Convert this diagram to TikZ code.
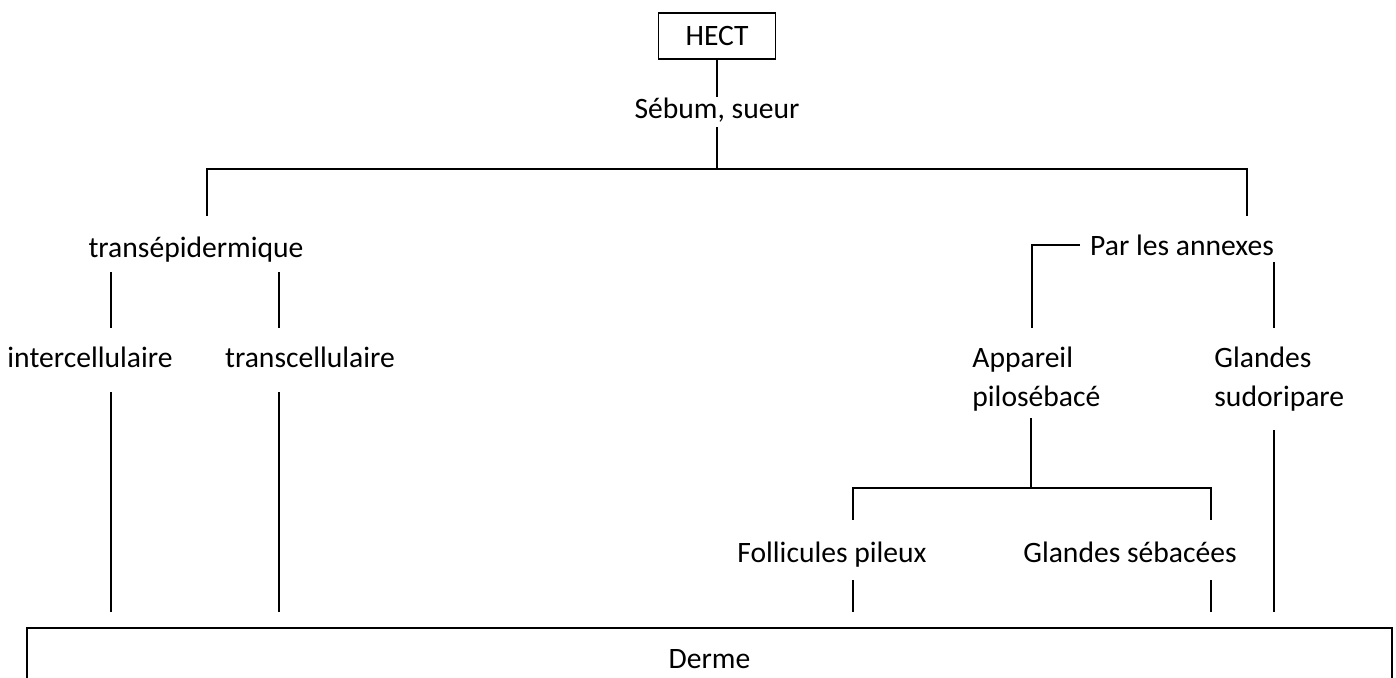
\documentclass[tikz,border=0pt]{standalone}
\usepackage{fontspec}
\setmainfont{Carlito}
\usetikzlibrary{positioning}
\tikzset{
  lbl/.style={inner sep=0pt, font=\fontsize{14.8}{19.5}\selectfont},
  hectbox/.style={draw, line width=0.8pt, minimum width=58.5pt, minimum height=23pt, inner sep=0pt, font=\fontsize{14.8}{19.5}\selectfont},
  dermebox/.style={draw, line width=0.8pt, minimum width=682.5pt, minimum height=31pt, inner sep=0pt, font=\fontsize{14.8}{19.5}\selectfont},
  link/.style={line width=0.8pt}
}

\begin{document}
\begin{tikzpicture}[x=0.5pt, y=-0.5pt]
    \useasboundingbox (0,0) rectangle (1396,677);

    % Top of the tree
    \node[hectbox] (hect) at (717,36) {HECT};
    \node[lbl, anchor=base] (sebum) at (717,118) {Sébum, sueur};
    \coordinate (s1) at (717,97);
    \coordinate (s2) at (717,127);
    \coordinate (top) at (717,169);
    \draw[link] (hect) -- (s1);
    \draw[link] (s2) -- (top);

    % Two main routes
    \coordinate (trtop) at (207,216);
    \coordinate (antop) at (1247,216);
    \draw[link] (trtop) |- (top) -| (antop);
    \node[lbl, anchor=base] (trans) at (196,257) {transépidermique};
    \node[lbl, anchor=base] (annexes) at (1182,255) {Par les annexes};

    % Transepidermal branch
    \node[lbl, anchor=base] (inter) at (90,367) {intercellulaire};
    \node[lbl, anchor=base] (transc) at (310,367) {transcellulaire};
    \coordinate (i1) at (111,272);
    \coordinate (i2) at (111,328);
    \coordinate (i3) at (111,392);
    \coordinate (i4) at (111,612);
    \coordinate (t1) at (279,272);
    \coordinate (t2) at (279,328);
    \coordinate (t3) at (279,392);
    \coordinate (t4) at (279,612);
    \draw[link] (i1) -- (i2);
    \draw[link] (t1) -- (t2);
    \draw[link] (i3) -- (i4);
    \draw[link] (t3) -- (t4);

    % Appendages branch
    \node[lbl, anchor=base west, align=left] (appareil) at (972,406) {Appareil\\pilosébacé};
    \node[lbl, anchor=base west, align=left] (sudo) at (1214,406) {Glandes\\sudoripare};
    \coordinate (a1) at (1080,245);
    \coordinate (a2) at (1032,328);
    \coordinate (g1) at (1274,262);
    \coordinate (g2) at (1274,328);
    \coordinate (g3) at (1274,430);
    \coordinate (g4) at (1274,612);
    \draw[link] (a1) -| (a2);
    \draw[link] (g1) -- (g2);
    \draw[link] (g3) -- (g4);

    % Pilosebaceous unit
    \coordinate (p1) at (1031,418);
    \coordinate (p2) at (1031,488);
    \coordinate (f1) at (853,520);
    \coordinate (gs1) at (1211,520);
    \draw[link] (p1) -- (p2);
    \draw[link] (f1) |- (p2) -| (gs1);
    \node[lbl, anchor=base] (foll) at (832,562) {Follicules pileux};
    \node[lbl, anchor=base] (seb) at (1130,562) {Glandes sébacées};
    \coordinate (f2) at (853,580);
    \coordinate (f3) at (853,612);
    \coordinate (gs2) at (1211,580);
    \coordinate (gs3) at (1211,612);
    \draw[link] (f2) -- (f3);
    \draw[link] (gs2) -- (gs3);

    % Dermis
    \node[dermebox] (derme) at (709.5,659) {Derme};
\end{tikzpicture}
\end{document}
